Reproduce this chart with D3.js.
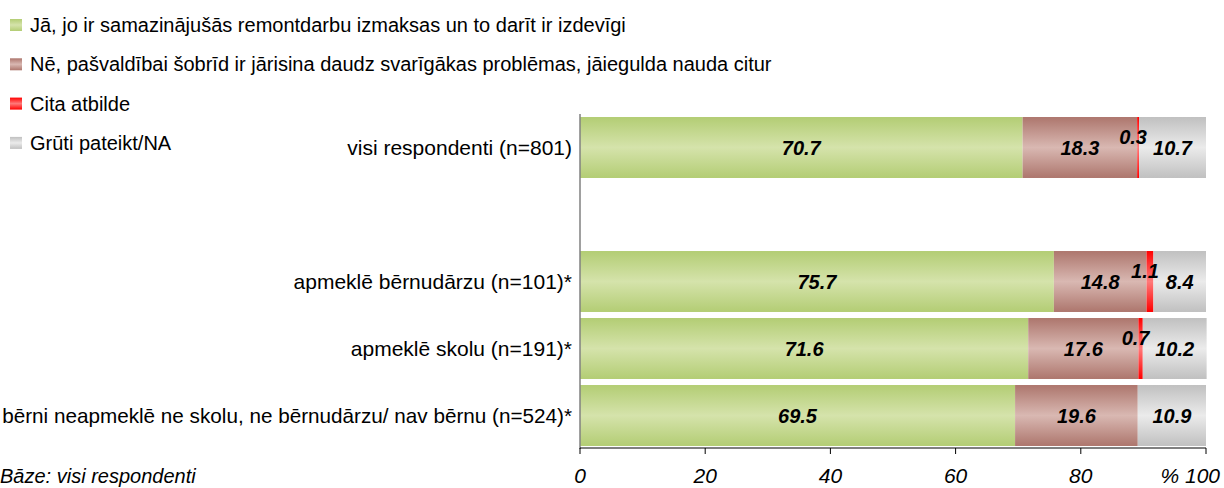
<!DOCTYPE html>
<html><head><meta charset="utf-8">
<script src="https://cdn.jsdelivr.net/npm/d3@7"></script>
<style>
html,body{margin:0;padding:0;background:#fff;}
svg{display:block;font-family:"Liberation Sans",Arial,sans-serif;}
</style></head><body>
<svg id="c" width="1224" height="488"></svg>
<script>
const categories = ["visi respondenti (n=801)", "", "apmeklē bērnudārzu (n=101)*", "apmeklē skolu (n=191)*", "bērni neapmeklē ne skolu, ne bērnudārzu/ nav bērnu (n=524)*"];
const seriesNames = ["Jā, jo ir samazinājušās remontdarbu izmaksas un to darīt ir izdevīgi", "Nē, pašvaldībai šobrīd ir jārisina daudz svarīgākas problēmas, jāiegulda nauda citur", "Cita atbilde", "Grūti pateikt/NA"];
const yes = [70.7, null, 75.7, 71.6, 69.5];
const no = [18.3, null, 14.8, 17.6, 19.6];
const other = [0.3, null, 1.1, 0.7, 0];
const dk = [10.7, null, 8.4, 10.2, 10.9];
const xTicks = [0, 20, 40, 60, 80, 100];
const xTickLabels = ["0", "20", "40", "60", "80", "% 100"];
const baseNote = "Bāze: visi respondenti";

const svg = d3.select("#c");
const defs = svg.append("defs");
const grads = [
  {edge:"#b3cd74", mid:"#d5e3ab"},
  {edge:"#ad766d", mid:"#d9b8b2"},
  {edge:"#ff0000", mid:"#ff7a7a"},
  {edge:"#c0c0c0", mid:"#ebebeb"}
];
grads.forEach((g,i)=>{
  const lg = defs.append("linearGradient").attr("id","g"+i).attr("x1",0).attr("y1",0).attr("x2",0).attr("y2",1);
  lg.append("stop").attr("offset","0%").attr("stop-color",g.edge);
  lg.append("stop").attr("offset","50%").attr("stop-color",g.mid);
  lg.append("stop").attr("offset","100%").attr("stop-color",g.edge);
});

const x = d3.scaleLinear().domain([0,100]).range([580,1206]);
const y = d3.scaleBand().domain(d3.range(categories.length)).range([114,449]).paddingInner(0.09).paddingOuter(0.045);

const series = [yes, no, other, dk];
const labels = [];
categories.forEach((c,i)=>{
  if (yes[i] == null) return;
  let acc = 0;
  series.forEach((s,k)=>{
    const v = s[i];
    if (!v) return;
    svg.append("rect").attr("x", x(acc)).attr("y", y(i)).attr("width", x(acc+v)-x(acc)).attr("height", y.bandwidth()).attr("fill","url(#g"+k+")");
    labels.push({i, v, mid: acc+v/2});
    acc += v;
  });
});
labels.forEach(l=>{
  const small = l.v < 3;
  svg.append("text")
    .attr("x", small ? x(l.mid)-5 : x(l.mid))
    .attr("y", y(l.i)+y.bandwidth()/2 + (small ? -4 : 7))
    .attr("text-anchor","middle")
    .attr("font-size", 20).attr("font-weight","bold").attr("font-style","italic")
    .attr("fill","#000").text(l.v.toFixed(1));
});

// category labels
categories.forEach((c,i)=>{
  if (!c) return;
  const t = svg.append("text").attr("x", 572).attr("y", y(i)+y.bandwidth()/2+7)
    .attr("text-anchor","end").attr("font-size",21).attr("fill","#000").text(c);
  const w = t.node().getComputedTextLength();
  if (w > 570) t.attr("font-size", 21*570/w);
});

// axes
svg.append("line").attr("x1",580).attr("x2",580).attr("y1",114).attr("y2",449).attr("stroke","#808080").attr("stroke-width",1.5);
const xa = svg.append("g").attr("transform","translate(0,448)");
xa.append("line").attr("x1",x(0)).attr("x2",x(100)).attr("stroke","#000").attr("stroke-width",1);
xTicks.forEach((t,i)=>{
  const last = i===xTicks.length-1;
  xa.append("line").attr("x1",x(t)).attr("x2",x(t)).attr("y1",0).attr("y2",6).attr("stroke","#000");
  xa.append("text").attr("x", x(t)).attr("y", 35).attr("text-anchor", last ? "end" : "middle")
    .attr("dx", last ? 14 : 0)
    .attr("font-size",21).attr("font-style","italic").attr("fill","#000").text(xTickLabels[i]);
});

svg.append("text").attr("x",0).attr("y",483).attr("font-size",20).attr("font-style","italic").text(baseNote);

// legend
seriesNames.forEach((n,i)=>{
  const yy = 19 + i*39.3;
  svg.append("rect").attr("x",10).attr("y",yy).attr("width",12).attr("height",12).attr("fill","url(#g"+i+")");
  svg.append("text").attr("x",30).attr("y",yy+13).attr("font-size",20).attr("fill","#000").text(n);
});
</script>
</body></html>
